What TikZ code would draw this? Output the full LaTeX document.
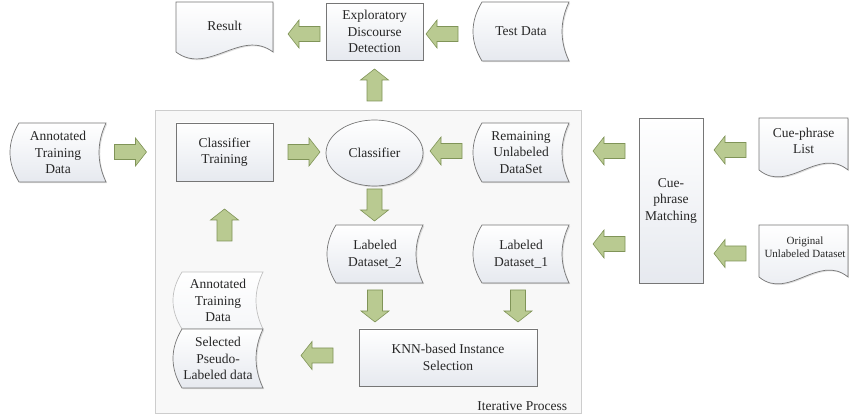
\documentclass[tikz,border=0pt]{standalone}
\usepackage{fontspec}
\setmainfont{Liberation Serif}
\usetikzlibrary{calc,shapes.geometric,shadows}
\definecolor{shapeline}{RGB}{118,118,118}
\definecolor{shapebot}{RGB}{230,233,239}
\definecolor{arrfill}{RGB}{185,202,145}
\definecolor{arrline}{RGB}{128,148,88}
\definecolor{contfill}{RGB}{248,248,248}
\definecolor{contline}{RGB}{205,205,205}
\tikzset{
 shp/.style={draw=shapeline, line width=0.7pt, top color=white, bottom color=shapebot,
   drop shadow={shadow xshift=1.2pt, shadow yshift=-1.2pt, opacity=0.25}},
 lightshp/.style={draw=shapeline!45, line width=0.7pt, top color=white, bottom color=shapebot!40},
 txt/.style={inner sep=0pt, outer sep=0pt, align=center, font=\fontsize{13.5}{16.5}\selectfont, text=black!85},
 boxnode/.style={txt, shp, rectangle},
 arrowsty/.style={fill=arrfill, draw=arrline, line width=0.6pt, line join=miter},
}
% stored-data outline: style, L, T, R, B
\newcommand{\storedpath}[5]{%
 \path[#1] ({#2+9},#3) -- (#4,#3)
   .. controls ({#4-9.3},{#3+(#5-#3)/3}) and ({#4-9.3},{#5-(#5-#3)/3}) .. (#4,#5)
   -- ({#2+9},#5)
   .. controls ({#2-3},{#5-(#5-#3)/3}) and ({#2-3},{#3+(#5-#3)/3}) .. ({#2+9},#3) -- cycle;}
% document outline: style, L, T, R, E (end of straight sides)
\newcommand{\docpath}[5]{%
 \path[#1] (#2,#3) -- (#4,#3) -- (#4,#5)
   .. controls ({#4-0.33*(#4-#2)},{#5-24}) and ({#2+0.33*(#4-#2)},{#5+24}) .. (#2,#5) -- cycle;}
% block arrow: centre, angle (0 = right)
\newcommand{\blkarrow}[2]{%
 \begin{scope}[shift={#1},rotate=#2]
  \path[arrowsty] (16,0) -- (5,-14) -- (5,-7.5) -- (-16,-7.5) -- (-16,7.5) -- (5,7.5) -- (5,14) -- cycle;
 \end{scope}}
\begin{document}
\begin{tikzpicture}[x=1pt,y=-1pt]
\useasboundingbox (0,0) rectangle (849,419);
% container
\node[draw=contline, fill=contfill, line width=0.7pt, minimum width=426pt, minimum height=303pt, inner sep=0pt, outer sep=0pt] (iter) at (368,261.5) {};
\node[txt, anchor=south east] (iterlbl) at (567,411) {Iterative Process};
% top row
\docpath{shp}{176}{2}{273}{52}
\node[txt, minimum width=97pt, minimum height=50pt] (result) at (224.5,26) {Result};
\node[boxnode, minimum width=97pt, minimum height=57pt] (edd) at (374.5,31.5) {Exploratory\\Discourse\\Detection};
\storedpath{shp}{473}{2}{569}{61}
\node[txt, minimum width=96pt, minimum height=59pt] (test) at (521,31.5) {Test Data};
% second row
\storedpath{shp}{10}{123}{106}{182}
\node[txt, minimum width=96pt, minimum height=59pt] (ann) at (58,152.5) {Annotated\\Training\\Data};
\node[boxnode, minimum width=97pt, minimum height=58pt] (ctrain) at (224.5,152) {Classifier\\Training};
\node[txt, shp, ellipse, minimum width=97pt, minimum height=66pt] (clf) at (374.5,153) {Classifier};
\storedpath{shp}{473}{123}{569}{182}
\node[txt, minimum width=96pt, minimum height=59pt] (rem) at (521,152.5) {Remaining\\Unlabeled\\DataSet};
\node[boxnode, minimum width=64pt, minimum height=165pt] (match) at (671,200.5) {Cue-\\phrase\\Matching};
\docpath{shp}{759}{118}{848}{170}
\node[txt, minimum width=89pt, minimum height=46pt] (cuelist) at (803.5,141) {Cue-phrase\\List};
% third row
\storedpath{shp}{327}{225}{423}{283}
\node[txt, minimum width=96pt, minimum height=58pt] (lab2) at (375,254) {Labeled\\Dataset\_2};
\storedpath{shp}{473}{225}{569}{283}
\node[txt, minimum width=96pt, minimum height=58pt] (lab1) at (521,254) {Labeled\\Dataset\_1};
\docpath{shp}{759}{225}{848}{277}
\node[txt, font=\fontsize{11}{13}\selectfont, minimum width=89pt, minimum height=44pt] (orig) at (805,247) {Original\\Unlabeled Dataset};
% bottom row
\storedpath{lightshp}{173}{272}{263}{329}
\node[txt, minimum width=90pt, minimum height=57pt] (ann2) at (218,300.5) {Annotated\\Training\\Data};
\storedpath{shp}{173}{329}{263}{388}
\node[txt, minimum width=90pt, minimum height=59pt] (sel) at (218,358.5) {Selected\\Pseudo-\\Labeled data};
\node[boxnode, minimum width=178pt, minimum height=57pt] (knn) at (448,357.5) {KNN-based Instance\\Selection};
% block arrows
\blkarrow{($(edd.west)+(-22,2.5)$)}{180}
\blkarrow{($(edd.east)+(19,2.5)$)}{180}
\blkarrow{($(edd.south)+(0,25)$)}{90}
\blkarrow{($(ctrain.west)+(-45.5,0)$)}{0}
\blkarrow{($(ctrain.east)+(31,0)$)}{0}
\blkarrow{($(rem.west)+(-27,-1.5)$)}{180}
\blkarrow{($(match.west |- rem.east)+(-30,-1.5)$)}{180}
\blkarrow{($(match.east |- cuelist.west)+(27,9)$)}{180}
\blkarrow{($(match.east |- orig.west)+(27,6.5)$)}{180}
\blkarrow{($(match.west |- lab1.east)+(-30,-10)$)}{180}
\blkarrow{($(clf.south)+(0,19)$)}{-90}
\blkarrow{($(lab2.south)+(0,23)$)}{-90}
\blkarrow{($(lab1.south)+(-3,23)$)}{-90}
\blkarrow{($(knn.west)+(-42,-2)$)}{180}
\blkarrow{($(ctrain.south)+(0,44)$)}{90}
\end{tikzpicture}
\end{document}
